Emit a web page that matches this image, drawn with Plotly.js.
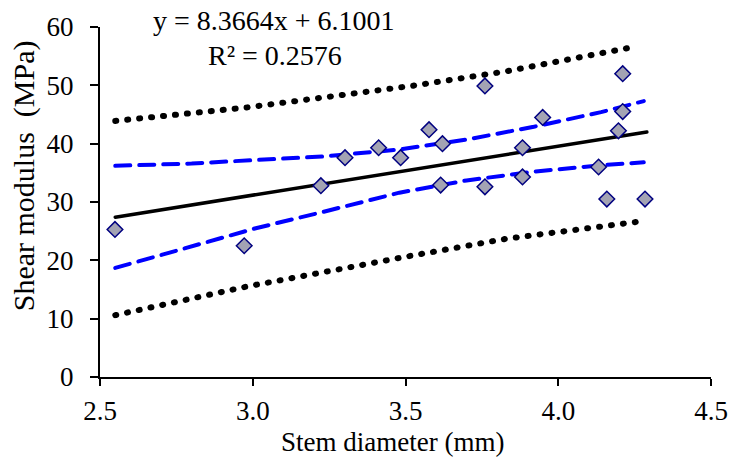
<!DOCTYPE html>
<html>
<head>
<meta charset="utf-8">
<script src="https://cdn.plot.ly/plotly-3.0.1.min.js"></script>
<style>
body { margin: 0; background: #fff; }
#chart { width: 732px; height: 463px; }
</style>
</head>
<body>
<div id="chart"></div>
<script>
// Observed data: stem diameter (mm) vs shear modulus (MPa)
const diameter = [2.549, 2.972, 3.223, 3.302, 3.412, 3.484, 3.577, 3.621, 3.615, 3.760, 3.760, 3.883, 3.883, 3.949, 4.132, 4.159, 4.211, 4.211, 4.197, 4.284];
const modulus  = [25.3, 22.5, 32.8, 37.6, 39.3, 37.6, 42.4, 40.0, 32.9, 49.9, 32.6, 39.3, 34.3, 44.5, 36.0, 30.5, 52.0, 45.5, 42.2, 30.5];

// Linear trend line end points
const trendX = [2.55, 4.29];
const trendY = [27.4, 42.0];

// Confidence band (blue dashed)
const ciX     = [2.55, 2.80, 3.01, 3.23, 3.48, 3.70, 3.92, 4.14, 4.28];
const ciUpper = [36.2, 36.6, 37.2, 37.8, 39.0, 40.7, 42.9, 45.4, 47.3];
const ciLower = [18.7, 22.3, 25.5, 28.3, 31.6, 33.7, 35.2, 36.3, 36.8];

// Prediction band (black dotted)
const piX     = [2.55, 2.98, 3.52, 3.83, 4.26];
const piUpper = [43.9, 46.2, 49.9, 52.4, 56.7];
const piLower = [10.6, 15.5, 20.8, 23.7, 26.6];

const xTicks = [2.5, 3.0, 3.5, 4.0, 4.5];
const yTicks = [0, 10, 20, 30, 40, 50, 60];

const eqText = 'y = 8.3664x + 6.1001';
const r2Text = 'R² = 0.2576';
const xTitle = 'Stem diameter (mm)';
const yTitle = 'Shear modulus  (MPa)';

const FONT = "Liberation Serif";

const dotLine = { color: '#000', width: 6, dash: '1px,11px' };
const dashLine = { color: '#0000ff', width: 4, dash: '15px,9px' };

const traces = [
  { x: piX, y: piUpper, mode: 'lines', line: dotLine, hoverinfo: 'skip' },
  { x: piX, y: piLower, mode: 'lines', line: dotLine, hoverinfo: 'skip' },
  { x: ciX, y: ciUpper, mode: 'lines', line: dashLine, hoverinfo: 'skip' },
  { x: ciX, y: ciLower, mode: 'lines', line: dashLine, hoverinfo: 'skip' },
  { x: trendX, y: trendY, mode: 'lines', line: { color: '#000', width: 3.5 }, hoverinfo: 'skip' },
  { x: diameter, y: modulus, mode: 'markers',
    marker: { symbol: 'diamond', size: 12, color: '#a3a3b3', line: { color: '#000080', width: 1.5 } } }
];

const layout = {
  width: 732, height: 463,
  margin: { l: 100, r: 21, t: 27, b: 86 },
  paper_bgcolor: '#fff', plot_bgcolor: '#fff',
  showlegend: false,
  font: { family: FONT, size: 25, color: '#000' },
  xaxis: {
    range: [2.5, 4.5], tickvals: xTicks, ticktext: xTicks.map(v => v.toFixed(1)),
    showline: true, linecolor: '#000', linewidth: 2,
    ticks: 'outside', ticklen: 7, tickwidth: 2, tickcolor: '#000',
    showgrid: false, zeroline: false, ticklabelstandoff: 2,
    tickfont: { family: FONT, size: 27, color: '#000' }
  },
  yaxis: {
    range: [0, 60], tickvals: yTicks, ticktext: yTicks.map(String),
    showline: true, linecolor: '#000', linewidth: 2,
    ticks: 'outside', ticklen: 8, tickwidth: 2, tickcolor: '#000',
    showgrid: false, zeroline: false, ticklabelstandoff: 11,
    tickfont: { family: FONT, size: 27, color: '#000' }
  },
  annotations: [
    { text: eqText, xref: 'paper', yref: 'paper', x: (274 - 100) / 611, y: (463 - 86 - 20) / 350.5,
      xanchor: 'center', yanchor: 'middle', showarrow: false, font: { family: FONT, size: 28, color: '#000' } },
    { text: r2Text, xref: 'paper', yref: 'paper', x: (275 - 100) / 611, y: (463 - 86 - 55) / 350.5,
      xanchor: 'center', yanchor: 'middle', showarrow: false, font: { family: FONT, size: 28, color: '#000' } },
    { text: xTitle, xref: 'paper', yref: 'paper', x: (392 - 100) / 611, y: -(442 - 377) / 350.5,
      xanchor: 'center', yanchor: 'middle', showarrow: false, font: { family: FONT, size: 27, color: '#000' } },
    { text: yTitle, xref: 'paper', yref: 'paper', x: -(100 - 24) / 611, y: (377 - 176) / 350.5,
      xanchor: 'center', yanchor: 'middle', textangle: -90, showarrow: false, font: { family: FONT, size: 30, color: '#000' } }
  ]
};

Plotly.newPlot('chart', traces, layout, { staticPlot: true }).then(() => {
  document.querySelectorAll('.scatterlayer .trace .js-line').forEach((p) => {
    p.style.strokeLinecap = 'round';
  });
});
</script>
</body>
</html>
